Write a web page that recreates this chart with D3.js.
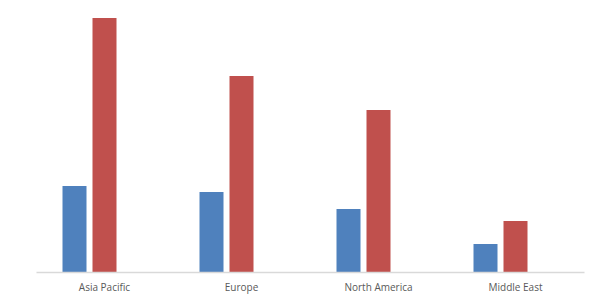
<!DOCTYPE html>
<html><head><meta charset="utf-8">
<script src="https://cdn.jsdelivr.net/npm/d3@7"></script>
<style>body{margin:0;background:#fff}svg{display:block}</style>
</head><body>
<svg id="c" width="596" height="308"></svg>
<script>
const categories = ["Asia Pacific", "Europe", "North America", "Middle East"];
const seriesNames = ["Series 1", "Series 2", "Series 3"];
const series1 = [86, 80, 63, 28];
const series2 = [254, 196, 162, 51];
const series3 = [0, 0, 0, 0];
const colors = ["#4f81bd", "#c0504d", "#9bbb59"];

(function () {
  const svg = d3.select("#c");
  const mLeft = 36, mRight = 584, mBottom = 272, mTop = 10;
  const x = d3.scaleBand().domain(categories).range([mLeft, mRight]).paddingInner(0).paddingOuter(0);
  const bw = x.bandwidth();
  const groupW = 84;
  const x1 = d3.scaleBand().domain(seriesNames).range([(bw - groupW) / 2, (bw + groupW) / 2]).paddingInner(0.2);
  const y = d3.scaleLinear().domain([0, 262]).range([mBottom, mTop]);

  const data = [series1, series2, series3];
  data.forEach((vals, si) => {
    svg.append("g").selectAll("rect").data(vals.filter(v => v > 0)).join("rect")
      .attr("x", (d, i) => x(categories[i]) + x1(seriesNames[si]))
      .attr("width", x1.bandwidth())
      .attr("y", d => y(d))
      .attr("height", d => y(0) - y(d))
      .attr("fill", colors[si]);
  });

  const ax = svg.append("g").attr("transform", `translate(0,${mBottom})`)
    .call(d3.axisBottom(x).tickSize(0).tickPadding(12));
  ax.select(".domain").attr("stroke", "#d9d9d9").attr("stroke-width", 1.3);
  ax.selectAll("text").attr("fill", "#595959").style("font-family", "Open Sans, sans-serif").style("font-size", "10px");
})();
</script>
</body></html>
